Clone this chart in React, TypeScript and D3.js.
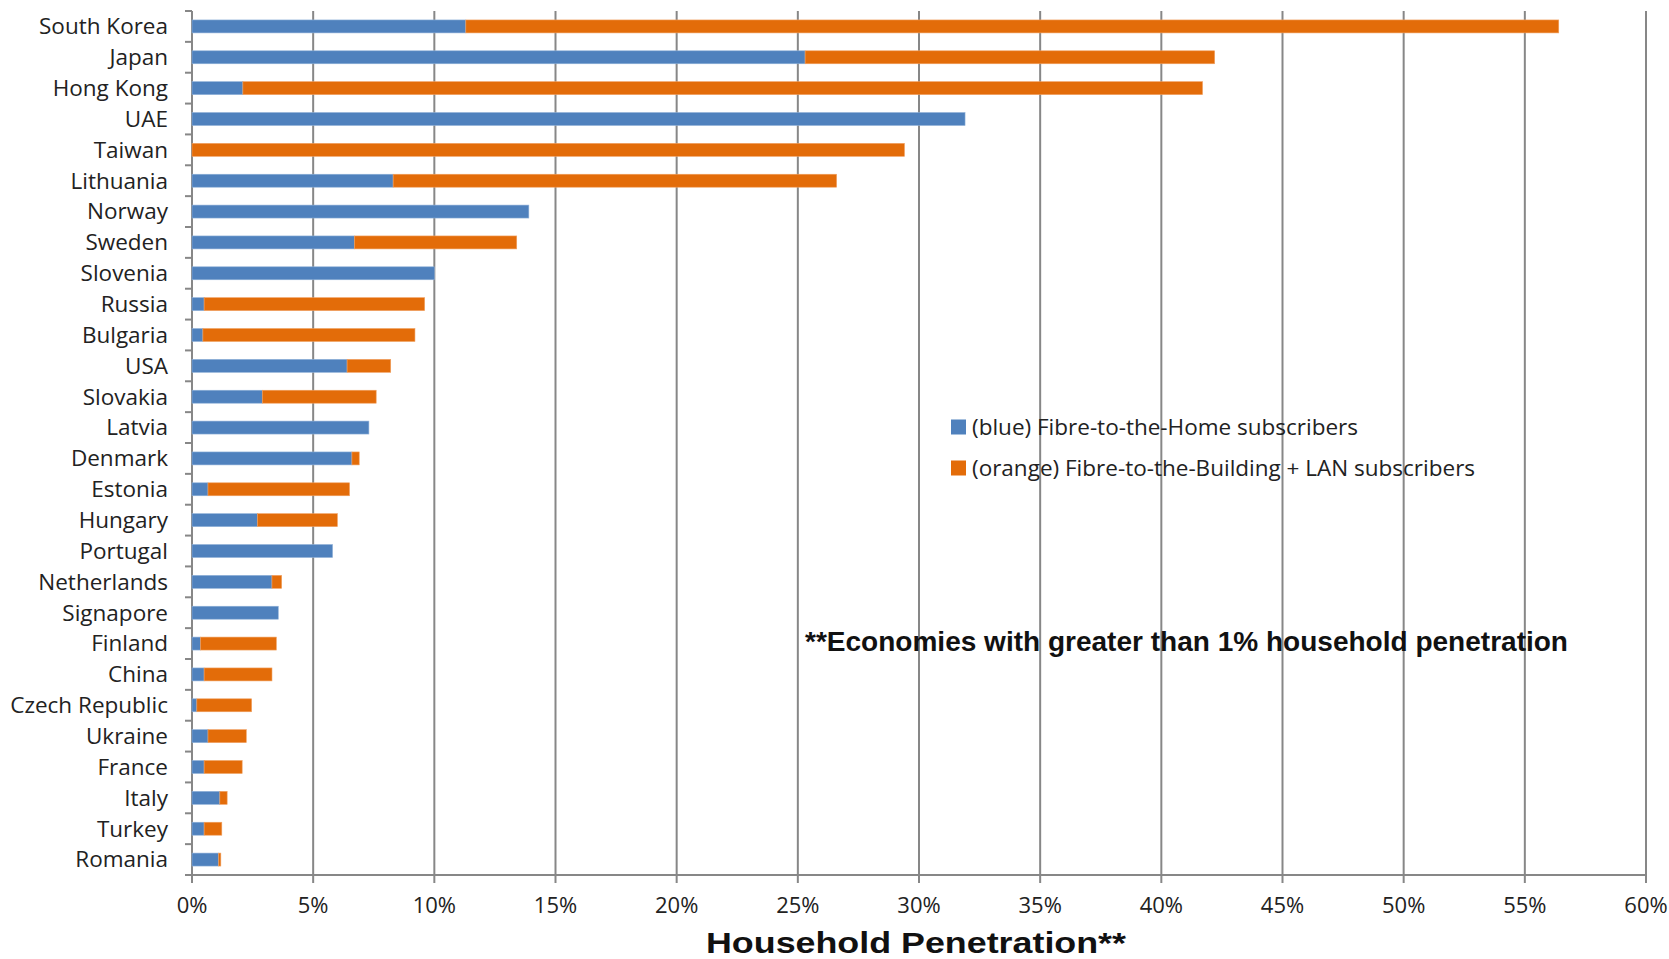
import * as d3 from 'd3';

const countries = [
  'South Korea', 'Japan', 'Hong Kong', 'UAE', 'Taiwan', 'Lithuania', 'Norway', 'Sweden',
  'Slovenia', 'Russia', 'Bulgaria', 'USA', 'Slovakia', 'Latvia', 'Denmark', 'Estonia',
  'Hungary', 'Portugal', 'Netherlands', 'Signapore', 'Finland', 'China', 'Czech Republic',
  'Ukraine', 'France', 'Italy', 'Turkey', 'Romania',
];

// % of households, Fibre-to-the-Home
const ftthValues = [
  11.3, 25.3, 2.1, 31.9, 0, 8.3, 13.9, 6.7,
  10.0, 0.5, 0.45, 6.4, 2.9, 7.3, 6.6, 0.66,
  2.7, 5.8, 3.3, 3.56, 0.35, 0.5, 0.2,
  0.66, 0.5, 1.15, 0.5, 1.1,
];

// % of households, Fibre-to-the-Building + LAN (stacked on top)
const fttbValues = [
  45.1, 16.9, 39.6, 0, 29.4, 18.3, 0, 6.7,
  0, 9.1, 8.75, 1.8, 4.7, 0, 0.3, 5.84,
  3.3, 0, 0.4, 0, 3.13, 2.8, 2.26,
  1.58, 1.57, 0.3, 0.73, 0.09,
];

const xTicks = [0, 5, 10, 15, 20, 25, 30, 35, 40, 45, 50, 55, 60];

const legendLabels = [
  '(blue) Fibre-to-the-Home subscribers',
  '(orange) Fibre-to-the-Building + LAN subscribers',
];

const BLUE = '#4f81bd';
const ORANGE = '#e36c09';
const GRID = '#878787';

export default function App() {
  const width = 1669;
  const height = 959;
  const margin = { top: 11, right: 23, bottom: 84, left: 192 };
  const innerW = width - margin.left - margin.right;
  const innerH = height - margin.top - margin.bottom;

  const x = d3.scaleLinear().domain([0, 60]).range([0, innerW]);
  const y = d3.scaleBand().domain(countries).range([0, innerH]).paddingInner(0.58).paddingOuter(0.29);
  const step = y.step();
  const bandStart = (c: string) => (y(c) || 0) - step * 0.29;

  const labelFont = '"Open Sans", Lato, sans-serif';
  const boldFont = '"Liberation Sans", Arial, sans-serif';

  return (
    <div style={{ position: 'absolute', left: 0, top: 0 }}>
      <svg width={width} height={height} style={{ display: 'block', background: '#fff' }}>
        <g transform={`translate(${margin.left},${margin.top})`}>
          {/* vertical gridlines + bottom ticks */}
          {xTicks.map(t => (
            <line key={`g${t}`} x1={x(t)} x2={x(t)} y1={0} y2={innerH + 8}
              stroke={GRID} strokeWidth={2} />
          ))}
          {/* x axis line */}
          <line x1={0} x2={innerW} y1={innerH} y2={innerH} stroke={GRID} strokeWidth={2} />
          {/* y axis line + category ticks */}
          <line x1={0} x2={0} y1={0} y2={innerH} stroke={GRID} strokeWidth={2} />
          {countries.map(c => (
            <line key={`t${c}`} x1={-7} x2={0} y1={bandStart(c)} y2={bandStart(c)}
              stroke={GRID} strokeWidth={2} />
          ))}
          <line x1={-7} x2={0} y1={innerH} y2={innerH} stroke={GRID} strokeWidth={2} />

          {/* bars */}
          {countries.map((c, i) => {
            const b = ftthValues[i];
            const o = fttbValues[i];
            const yy = y(c) || 0;
            return (
              <g key={`b${c}`}>
                {b > 0 && (
                  <rect x={x(0)} y={yy} width={x(b) - x(0)} height={y.bandwidth()}
                    fill={BLUE} stroke="#8fb0d8" strokeWidth={0.6} />
                )}
                {o > 0 && (
                  <rect x={x(b)} y={yy} width={x(b + o) - x(b)} height={y.bandwidth()}
                    fill={ORANGE} stroke="#f0a060" strokeWidth={0.6} />
                )}
              </g>
            );
          })}

          {/* category labels */}
          {countries.map(c => (
            <text key={`l${c}`} x={-24} y={(y(c) || 0) + y.bandwidth() / 2} dy="0.35em"
              textAnchor="end" fontFamily={labelFont} fontSize={22.5} fill="#222">
              {c}
            </text>
          ))}

          {/* x tick labels */}
          {xTicks.map(t => (
            <text key={`x${t}`} x={x(t)} y={innerH + 30} dy="0.35em" textAnchor="middle"
              fontFamily={labelFont} fontSize={22} fill="#222">
              {`${t}%`}
            </text>
          ))}

          {/* axis title */}
          <text x={916 - margin.left} y={953 - margin.top} textAnchor="middle"
            fontFamily={boldFont} fontWeight="bold" fontSize={30} fill="#111"
            textLength={420} lengthAdjust="spacingAndGlyphs">
            Household Penetration**
          </text>

          {/* legend */}
          {legendLabels.map((l, i) => (
            <g key={l} transform={`translate(${951 - margin.left},${427 + i * 41 - margin.top})`}>
              <rect x={0} y={-7.5} width={15} height={15} fill={i === 0 ? BLUE : ORANGE} />
              <text x={21} y={0} dy="0.35em" fontFamily={labelFont} fontSize={22.5} fill="#222">{l}</text>
            </g>
          ))}

          {/* annotation */}
          <text x={805 - margin.left} y={642 - margin.top} dy="0.35em"
            fontFamily={boldFont} fontWeight="bold" fontSize={27} fill="#111"
            textLength={763} lengthAdjust="spacingAndGlyphs">
            **Economies with greater than 1% household penetration
          </text>
        </g>
      </svg>
    </div>
  );
}
